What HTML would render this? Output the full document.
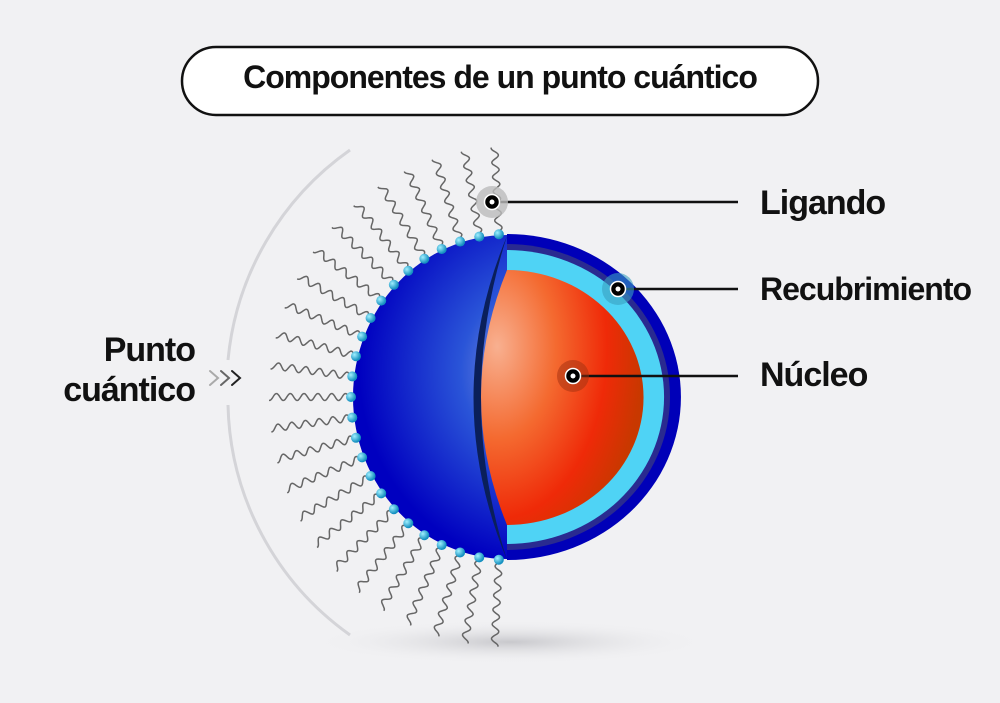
<!DOCTYPE html>
<html><head><meta charset="utf-8"><style>
html,body{margin:0;padding:0;background:#f1f1f3;}
body{width:1000px;height:703px;overflow:hidden;position:relative;font-family:"Liberation Sans",sans-serif;}
.t{position:absolute;font-weight:bold;color:#111;white-space:nowrap;letter-spacing:-1px;}
</style></head><body>
<svg id="s" width="1000" height="703" style="position:absolute;left:0;top:0">
<defs>
<radialGradient id="bl" cx="0.62" cy="0.42" r="0.6">
<stop offset="0" stop-color="#a8b0e0"/><stop offset="0.45" stop-color="#2a55d8"/><stop offset="1" stop-color="#0000c0"/>
</radialGradient>
<radialGradient id="or" cx="0.1" cy="0.3" r="0.9">
<stop offset="0" stop-color="#f8b090"/><stop offset="0.4" stop-color="#f46a30"/><stop offset="0.75" stop-color="#ef2a08"/><stop offset="1" stop-color="#c83800"/>
</radialGradient>
<radialGradient id="sh" cx="0.5" cy="0.5" r="0.5">
<stop offset="0" stop-color="#c8c8cc"/><stop offset="1" stop-color="#f1f1f3" stop-opacity="0"/>
</radialGradient>
<radialGradient id="bead" cx="0.35" cy="0.35" r="0.6">
<stop offset="0" stop-color="#a0f0ff"/><stop offset="1" stop-color="#1590c0"/>
</radialGradient>
</defs>
<rect x="182" y="47" width="636" height="68" rx="34" fill="#fff" stroke="#111" stroke-width="2.5"/>
<ellipse cx="510" cy="642" rx="200" ry="22" fill="url(#sh)"/>
<path d="M350,150 A290,290 0 0 0 228,360" fill="none" stroke="#d4d4d8" stroke-width="3"/>
<path d="M228,405 A290,290 0 0 0 350,635" fill="none" stroke="#d4d4d8" stroke-width="3"/>
<g id="lig"></g>
<ellipse cx="507" cy="397" rx="154" ry="162" fill="url(#bl)"/>
<path d="M507,234 A174,163 0 0 1 507,560 Z" fill="#0000b8"/>
<path d="M507,244 A163,153 0 0 1 507,550 Z" fill="#2a2a90"/>
<path d="M507,250 A156,146 0 0 1 507,544 Z" fill="#4fd3f5"/>
<path d="M507,270 A136,127 0 0 1 507,525 Q455,397 507,270 Z" fill="url(#or)"/>
<path d="M507,236 Q440,397 507,560 Q455,397 507,236 Z" fill="#0a1f5a"/>
<g id="beads"></g>
<g stroke="#111" stroke-width="2.5">
<line x1="492" y1="202" x2="738" y2="202"/>
<line x1="618" y1="289" x2="738" y2="289"/>
<line x1="573" y1="376" x2="738" y2="376"/>
</g>
<circle cx="492" cy="202" r="16" fill="#bbb" opacity="0.8"/>
<circle cx="618" cy="289" r="16" fill="#3aa0c0" opacity="0.6"/>
<circle cx="573" cy="376" r="16" fill="#a03010" opacity="0.5"/>
<g fill="#000" stroke="#fff" stroke-width="1.5">
<circle cx="492" cy="202" r="7.5"/><circle cx="618" cy="289" r="7.5"/><circle cx="573" cy="376" r="7.5"/>
</g>
<g fill="#fff"><circle cx="492" cy="202" r="2.5"/><circle cx="618" cy="289" r="2.5"/><circle cx="573" cy="376" r="2.5"/></g>
<g fill="none" stroke-width="2" stroke-linecap="round">
<path d="M210,371 L218,378 L210,385" stroke="#aaa"/>
<path d="M221,371 L229,378 L221,385" stroke="#666"/>
<path d="M232,371 L240,378 L232,385" stroke="#222"/>
</g>
</svg>
<div class="t" style="left:0;width:1000px;top:59px;text-align:center;font-size:32px;">Componentes de un punto cuántico</div>
<div class="t" style="left:760px;top:184px;font-size:34px;">Ligando</div>
<div class="t" style="left:760px;top:271px;font-size:32px;">Recubrimiento</div>
<div class="t" style="left:760px;top:356px;font-size:34px;">Núcleo</div>
<div class="t" style="right:805px;top:330px;font-size:34px;text-align:right;line-height:40px;">Punto<br>cuántico</div>
<script>
var ns="http://www.w3.org/2000/svg",cx=507,cy=397,lig=document.getElementById("lig"),bd=document.getElementById("beads");
var N=25;
for(var i=0;i<N;i++){
 var a=(-93-i*(174/(N-1)))*Math.PI/180;
 var ux=Math.cos(a),uy=Math.sin(a),px=-uy,py=ux;
 var r0=158,len=80,d="";
 for(var s=0;s<=80;s++){
  var t=s/80,r=r0+t*len,w=3.5*Math.sin(t*len/2.2);
  var x=cx+ux*r*1.0+px*w,y=cy+uy*r*1.05+py*w;
  d+=(s?"L":"M")+x.toFixed(1)+","+y.toFixed(1);
 }
 var p=document.createElementNS(ns,"path");p.setAttribute("d",d);p.setAttribute("fill","none");p.setAttribute("stroke","#666");p.setAttribute("stroke-width","1.5");lig.appendChild(p);
 var c=document.createElementNS(ns,"circle");c.setAttribute("cx",cx+ux*156);c.setAttribute("cy",cy+uy*163);c.setAttribute("r",5);c.setAttribute("fill","url(#bead)");bd.appendChild(c);
}
</script>
</body></html>
